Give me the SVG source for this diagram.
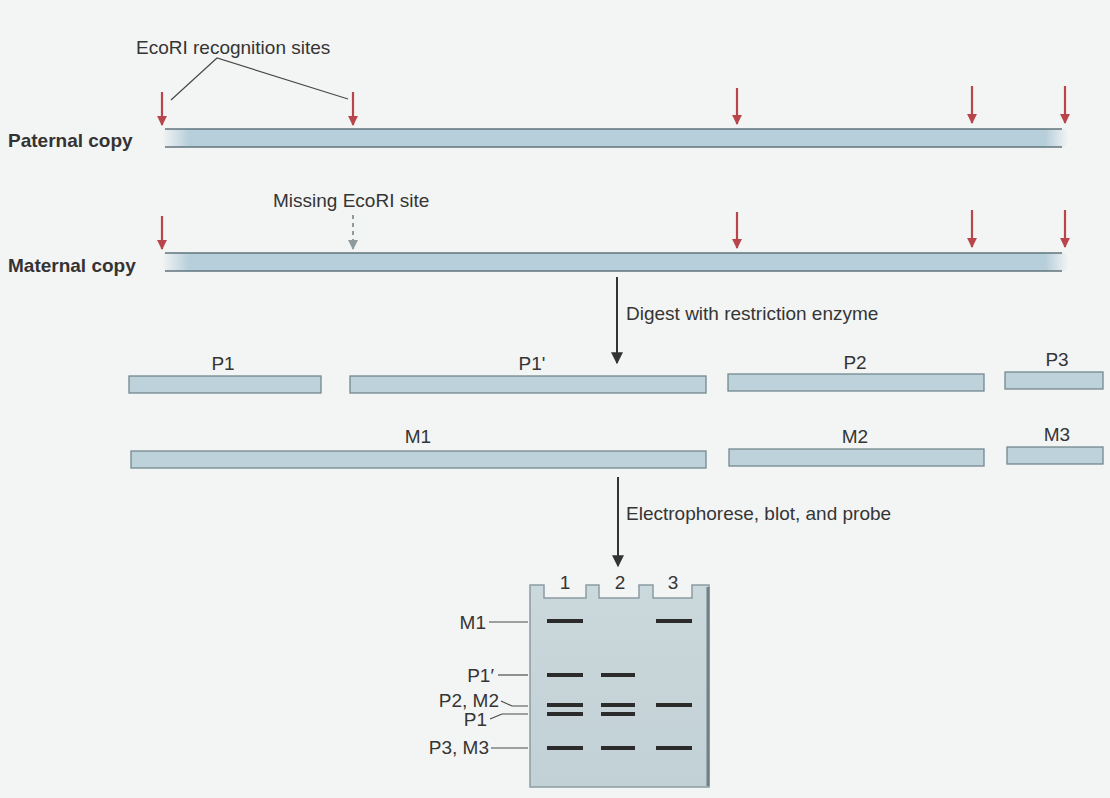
<svg xmlns="http://www.w3.org/2000/svg" width="1110" height="798" viewBox="0 0 1110 798">
<style>
text{font-family:"Liberation Sans",Arial,sans-serif;fill:#353535;font-size:19px}
.bold{font-weight:bold;fill:#333}
.frag{fill:#bed2db;stroke:#74888f;stroke-width:1.3}
.edge{stroke:#5f747c;stroke-width:1.4}
.red{stroke:#b8454a;stroke-width:2.2;fill:none}
.blk{stroke:#333;stroke-width:2;fill:none}
.lead{stroke:#4a4a4a;stroke-width:1.2;fill:none}
.band{stroke:#2b2b2b;stroke-width:4}
</style>
<defs>
<linearGradient id="fade" x1="0" y1="0" x2="1" y2="0">
<stop offset="0" stop-color="#b7cfdb" stop-opacity="0"/>
<stop offset="0.03" stop-color="#b7cfdb" stop-opacity="1"/>
<stop offset="0.975" stop-color="#b7cfdb" stop-opacity="1"/>
<stop offset="1" stop-color="#b7cfdb" stop-opacity="0"/>
</linearGradient>
<linearGradient id="gelfill" x1="0" y1="0" x2="0" y2="1">
<stop offset="0" stop-color="#cbd8dc"/>
<stop offset="1" stop-color="#c2d1d6"/>
</linearGradient>
<marker id="redhead" viewBox="0 0 10 10" refX="9" refY="5" markerWidth="5.5" markerHeight="4.5" orient="auto" markerUnits="strokeWidth">
<path d="M0,0 L10,5 L0,10 Z" fill="#b8454a"/>
</marker>
<marker id="grayhead" viewBox="0 0 10 10" refX="9" refY="5" markerWidth="5" markerHeight="5" orient="auto" markerUnits="strokeWidth">
<path d="M0,0 L10,5 L0,10 Z" fill="#8f9a9e"/>
</marker>
<marker id="blkhead" viewBox="0 0 10 10" refX="9" refY="5" markerWidth="7.5" markerHeight="6" orient="auto" markerUnits="strokeWidth">
<path d="M0,0 L10,5 L0,10 Z" fill="#333"/>
</marker>
</defs>
<rect width="1110" height="798" fill="#f3f4f4"/>

<g id="ecori-label">
<text x="136" y="54">EcoRI recognition sites</text>
<path class="lead" d="M171,100 L217,58 L348,99"/>
</g>

<g id="paternal">
<text class="bold" x="8" y="147">Paternal copy</text>
<rect x="162" y="129" width="906" height="18" fill="url(#fade)"/>
<line class="edge" x1="165" y1="129" x2="1062" y2="129"/>
<line class="edge" x1="165" y1="147" x2="1062" y2="147"/>
</g>

<g id="missing-label">
<text x="273" y="207">Missing EcoRI site</text>
</g>

<g id="maternal">
<text class="bold" x="8" y="272">Maternal copy</text>
<rect x="162" y="253" width="906" height="18" fill="url(#fade)"/>
<line class="edge" x1="165" y1="253" x2="1062" y2="253"/>
<line class="edge" x1="165" y1="271" x2="1062" y2="271"/>
</g>

<g id="digest-label"><text x="626" y="320">Digest with restriction enzyme</text></g>

<g id="P1"><text x="223" y="370" text-anchor="middle">P1</text><rect class="frag" x="129" y="376" width="192" height="17"/></g>
<g id="P1prime"><text x="532" y="370" text-anchor="middle">P1'</text><rect class="frag" x="350" y="376" width="356" height="17"/></g>
<g id="P2"><text x="855" y="369" text-anchor="middle">P2</text><rect class="frag" x="728" y="374" width="256" height="17"/></g>
<g id="P3"><text x="1057" y="366" text-anchor="middle">P3</text><rect class="frag" x="1005" y="372" width="98" height="17"/></g>

<g id="M1"><text x="418" y="443" text-anchor="middle">M1</text><rect class="frag" x="131" y="451" width="575" height="17"/></g>
<g id="M2"><text x="855" y="443" text-anchor="middle">M2</text><rect class="frag" x="729" y="449" width="255" height="17"/></g>
<g id="M3"><text x="1057" y="441" text-anchor="middle">M3</text><rect class="frag" x="1007" y="447" width="96" height="17"/></g>

<g id="electro-label"><text x="626" y="520">Electrophorese, blot, and probe</text></g>

<g id="gel">
<path d="M530,585 L544,585 L544,598 L586,598 L586,585 L599,585 L599,598 L639,598 L639,585 L653,585 L653,598 L692,598 L692,585 L709,585 L709,787 L530,787 Z" fill="url(#gelfill)" stroke="#8a9ca2" stroke-width="1.5"/>
<line x1="708" y1="587" x2="708" y2="786" stroke="#6f8087" stroke-width="3"/>
<text x="565" y="589" text-anchor="middle" font-size="18">1</text>
<text x="620" y="589" text-anchor="middle" font-size="18">2</text>
<text x="673" y="589" text-anchor="middle" font-size="18">3</text>
<line class="band" x1="547" y1="621" x2="583" y2="621"/>
<line class="band" x1="656" y1="621" x2="692" y2="621"/>
<line class="band" x1="547" y1="675" x2="583" y2="675"/>
<line class="band" x1="601" y1="675" x2="635" y2="675"/>
<line class="band" x1="547" y1="705" x2="583" y2="705"/>
<line class="band" x1="601" y1="705" x2="635" y2="705"/>
<line class="band" x1="656" y1="705" x2="692" y2="705"/>
<line class="band" x1="547" y1="714" x2="583" y2="714"/>
<line class="band" x1="601" y1="714" x2="635" y2="714"/>
<line class="band" x1="547" y1="748" x2="583" y2="748"/>
<line class="band" x1="601" y1="748" x2="635" y2="748"/>
<line class="band" x1="656" y1="748" x2="692" y2="748"/>
</g>

<g id="gel-labels">
<text x="486" y="629" text-anchor="end">M1</text>
<text x="494" y="682" text-anchor="end">P1′</text>
<text x="499" y="707" text-anchor="end">P2, M2</text>
<text x="487" y="726" text-anchor="end">P1</text>
<text x="489" y="754" text-anchor="end">P3, M3</text>
</g>

<g id="connectors">
<line class="red" x1="162" y1="92" x2="162" y2="125" marker-end="url(#redhead)"/>
<line class="red" x1="353" y1="92" x2="353" y2="125" marker-end="url(#redhead)"/>
<line class="red" x1="737" y1="88" x2="737" y2="124" marker-end="url(#redhead)"/>
<line class="red" x1="972" y1="86" x2="972" y2="123" marker-end="url(#redhead)"/>
<line class="red" x1="1065" y1="86" x2="1065" y2="123" marker-end="url(#redhead)"/>
<line class="red" x1="162" y1="216" x2="162" y2="249" marker-end="url(#redhead)"/>
<line class="red" x1="737" y1="212" x2="737" y2="248" marker-end="url(#redhead)"/>
<line class="red" x1="972" y1="210" x2="972" y2="247" marker-end="url(#redhead)"/>
<line class="red" x1="1065" y1="210" x2="1065" y2="247" marker-end="url(#redhead)"/>
<line x1="353" y1="215" x2="353" y2="249" stroke="#8f9a9e" stroke-width="2" stroke-dasharray="4,4" marker-end="url(#grayhead)"/>
<line class="blk" x1="617" y1="277" x2="617" y2="363" marker-end="url(#blkhead)"/>
<line class="blk" x1="618" y1="477" x2="618" y2="566" marker-end="url(#blkhead)"/>
<line class="lead" x1="489" y1="622" x2="528" y2="622"/>
<line class="lead" x1="498" y1="675" x2="528" y2="675"/>
<path class="lead" d="M501,701 L512,706 L528,706"/>
<path class="lead" d="M490,719 L502,714 L528,714"/>
<line class="lead" x1="491" y1="748" x2="528" y2="748"/>
</g>
</svg>
